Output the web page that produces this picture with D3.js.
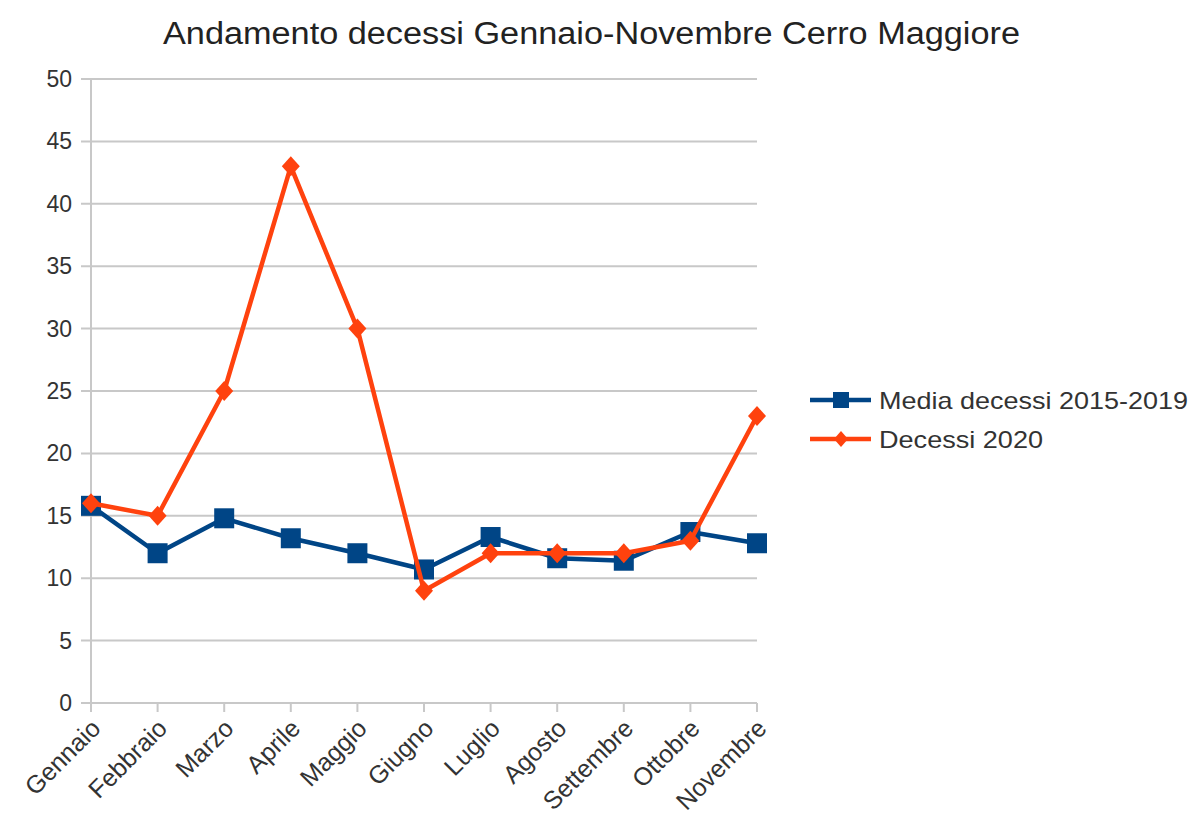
<!DOCTYPE html>
<html>
<head>
<meta charset="utf-8">
<script src="https://cdn.jsdelivr.net/npm/d3@7"></script>
<style>
  body { margin: 0; background: #fff; }
  text { font-family: "Liberation Sans", Arial, sans-serif; fill: #333; }
</style>
</head>
<body>
<svg width="1193" height="821"></svg>
<script>
var svg = d3.select('svg');

// data
var mesi = ['Gennaio', 'Febbraio', 'Marzo', 'Aprile', 'Maggio', 'Giugno', 'Luglio', 'Agosto', 'Settembre', 'Ottobre', 'Novembre'];
var media = [15.8, 12.0, 14.8, 13.2, 12.0, 10.7, 13.3, 11.6, 11.4, 13.7, 12.8];
var decessi2020 = [16, 15, 25, 43, 30, 9, 12, 12, 12, 13, 23];
var yTicks = [0, 5, 10, 15, 20, 25, 30, 35, 40, 45, 50];

var pl = 91, pr = 757, pt = 79, pb = 703;

var x = d3.scalePoint().domain(mesi).range([pl, pr]);
var y = d3.scaleLinear().domain([0, 50]).range([pb, pt]);

// title
svg.append('text')
  .attr('x', 163).attr('y', 44)
  .attr('textLength', 857).attr('lengthAdjust', 'spacingAndGlyphs')
  .style('font-size', '31px')
  .style('fill', '#222')
  .text('Andamento decessi Gennaio-Novembre Cerro Maggiore');

// grid
svg.append('g').selectAll('line')
  .data(yTicks).enter()
  .append('line')
  .attr('x1', pl - 10).attr('x2', pr)
  .attr('y1', y).attr('y2', y)
  .attr('stroke', '#c8c8c8').attr('stroke-width', 2);

// y axis line
svg.append('line')
  .attr('x1', pl).attr('x2', pl)
  .attr('y1', pt).attr('y2', pb + 9)
  .attr('stroke', '#c8c8c8').attr('stroke-width', 2);

// y labels
svg.append('g').selectAll('text')
  .data(yTicks).enter()
  .append('text')
  .attr('x', pl - 19)
  .attr('y', function(d) { return y(d) + 8 })
  .attr('text-anchor', 'end')
  .style('font-size', '23px')
  .text(function(d) { return d });

// x ticks + labels
svg.append('g').selectAll('line')
  .data(mesi).enter()
  .append('line')
  .attr('x1', x).attr('x2', x)
  .attr('y1', pb).attr('y2', pb + 9)
  .attr('stroke', '#c8c8c8').attr('stroke-width', 2);

svg.append('g').selectAll('text')
  .data(mesi).enter()
  .append('text')
  .attr('transform', function(d) { return 'translate(' + (x(d) + 11) + ',' + (pb + 27) + ') rotate(-45)' })
  .attr('text-anchor', 'end')
  .style('font-size', '25px')
  .text(function(d) { return d });

var line = d3.line()
  .x(function(d, i) { return x(mesi[i]) })
  .y(function(d) { return y(d) });

var blue = '#004586', orange = '#ff420e';

// blue series
svg.append('path').datum(media)
  .attr('d', line).attr('fill', 'none')
  .attr('stroke', blue).attr('stroke-width', 4.5).attr('stroke-linejoin', 'round');
svg.append('g').selectAll('rect')
  .data(media).enter()
  .append('rect')
  .attr('x', function(d, i) { return x(mesi[i]) - 10 })
  .attr('y', function(d) { return y(d) - 10 })
  .attr('width', 20).attr('height', 20)
  .attr('fill', blue);

// orange series
svg.append('path').datum(decessi2020)
  .attr('d', line).attr('fill', 'none')
  .attr('stroke', orange).attr('stroke-width', 4.5).attr('stroke-linejoin', 'round');
var diamond = 'M0,-10L9,0L0,10L-9,0Z';
svg.append('g').selectAll('path')
  .data(decessi2020).enter()
  .append('path')
  .attr('d', diamond)
  .attr('transform', function(d, i) { return 'translate(' + x(mesi[i]) + ',' + y(d) + ')' })
  .attr('fill', orange);

// legend
var legend = [
  { name: 'Media decessi 2015-2019', color: blue, shape: 'square', w: 309 },
  { name: 'Decessi 2020', color: orange, shape: 'diamond', w: 164 }
];
var lg = svg.append('g').selectAll('g')
  .data(legend).enter()
  .append('g')
  .attr('transform', function(d, i) { return 'translate(810,' + (400 + i * 39) + ')' });
lg.append('line')
  .attr('x1', 0).attr('x2', 61).attr('y1', 0).attr('y2', 0)
  .attr('stroke', function(d) { return d.color }).attr('stroke-width', 4.5);
lg.each(function(d) {
  var g = d3.select(this);
  if (d.shape == 'square')
    g.append('rect').attr('x', 23).attr('y', -8).attr('width', 16).attr('height', 16).attr('fill', d.color);
  else
    g.append('path').attr('d', 'M31,-8L38,0L31,8L24,0Z').attr('fill', d.color);
});
lg.append('text')
  .attr('x', 69).attr('y', 9)
  .attr('textLength', function(d) { return d.w }).attr('lengthAdjust', 'spacingAndGlyphs')
  .style('font-size', '24px')
  .text(function(d) { return d.name });
</script>
</body>
</html>
